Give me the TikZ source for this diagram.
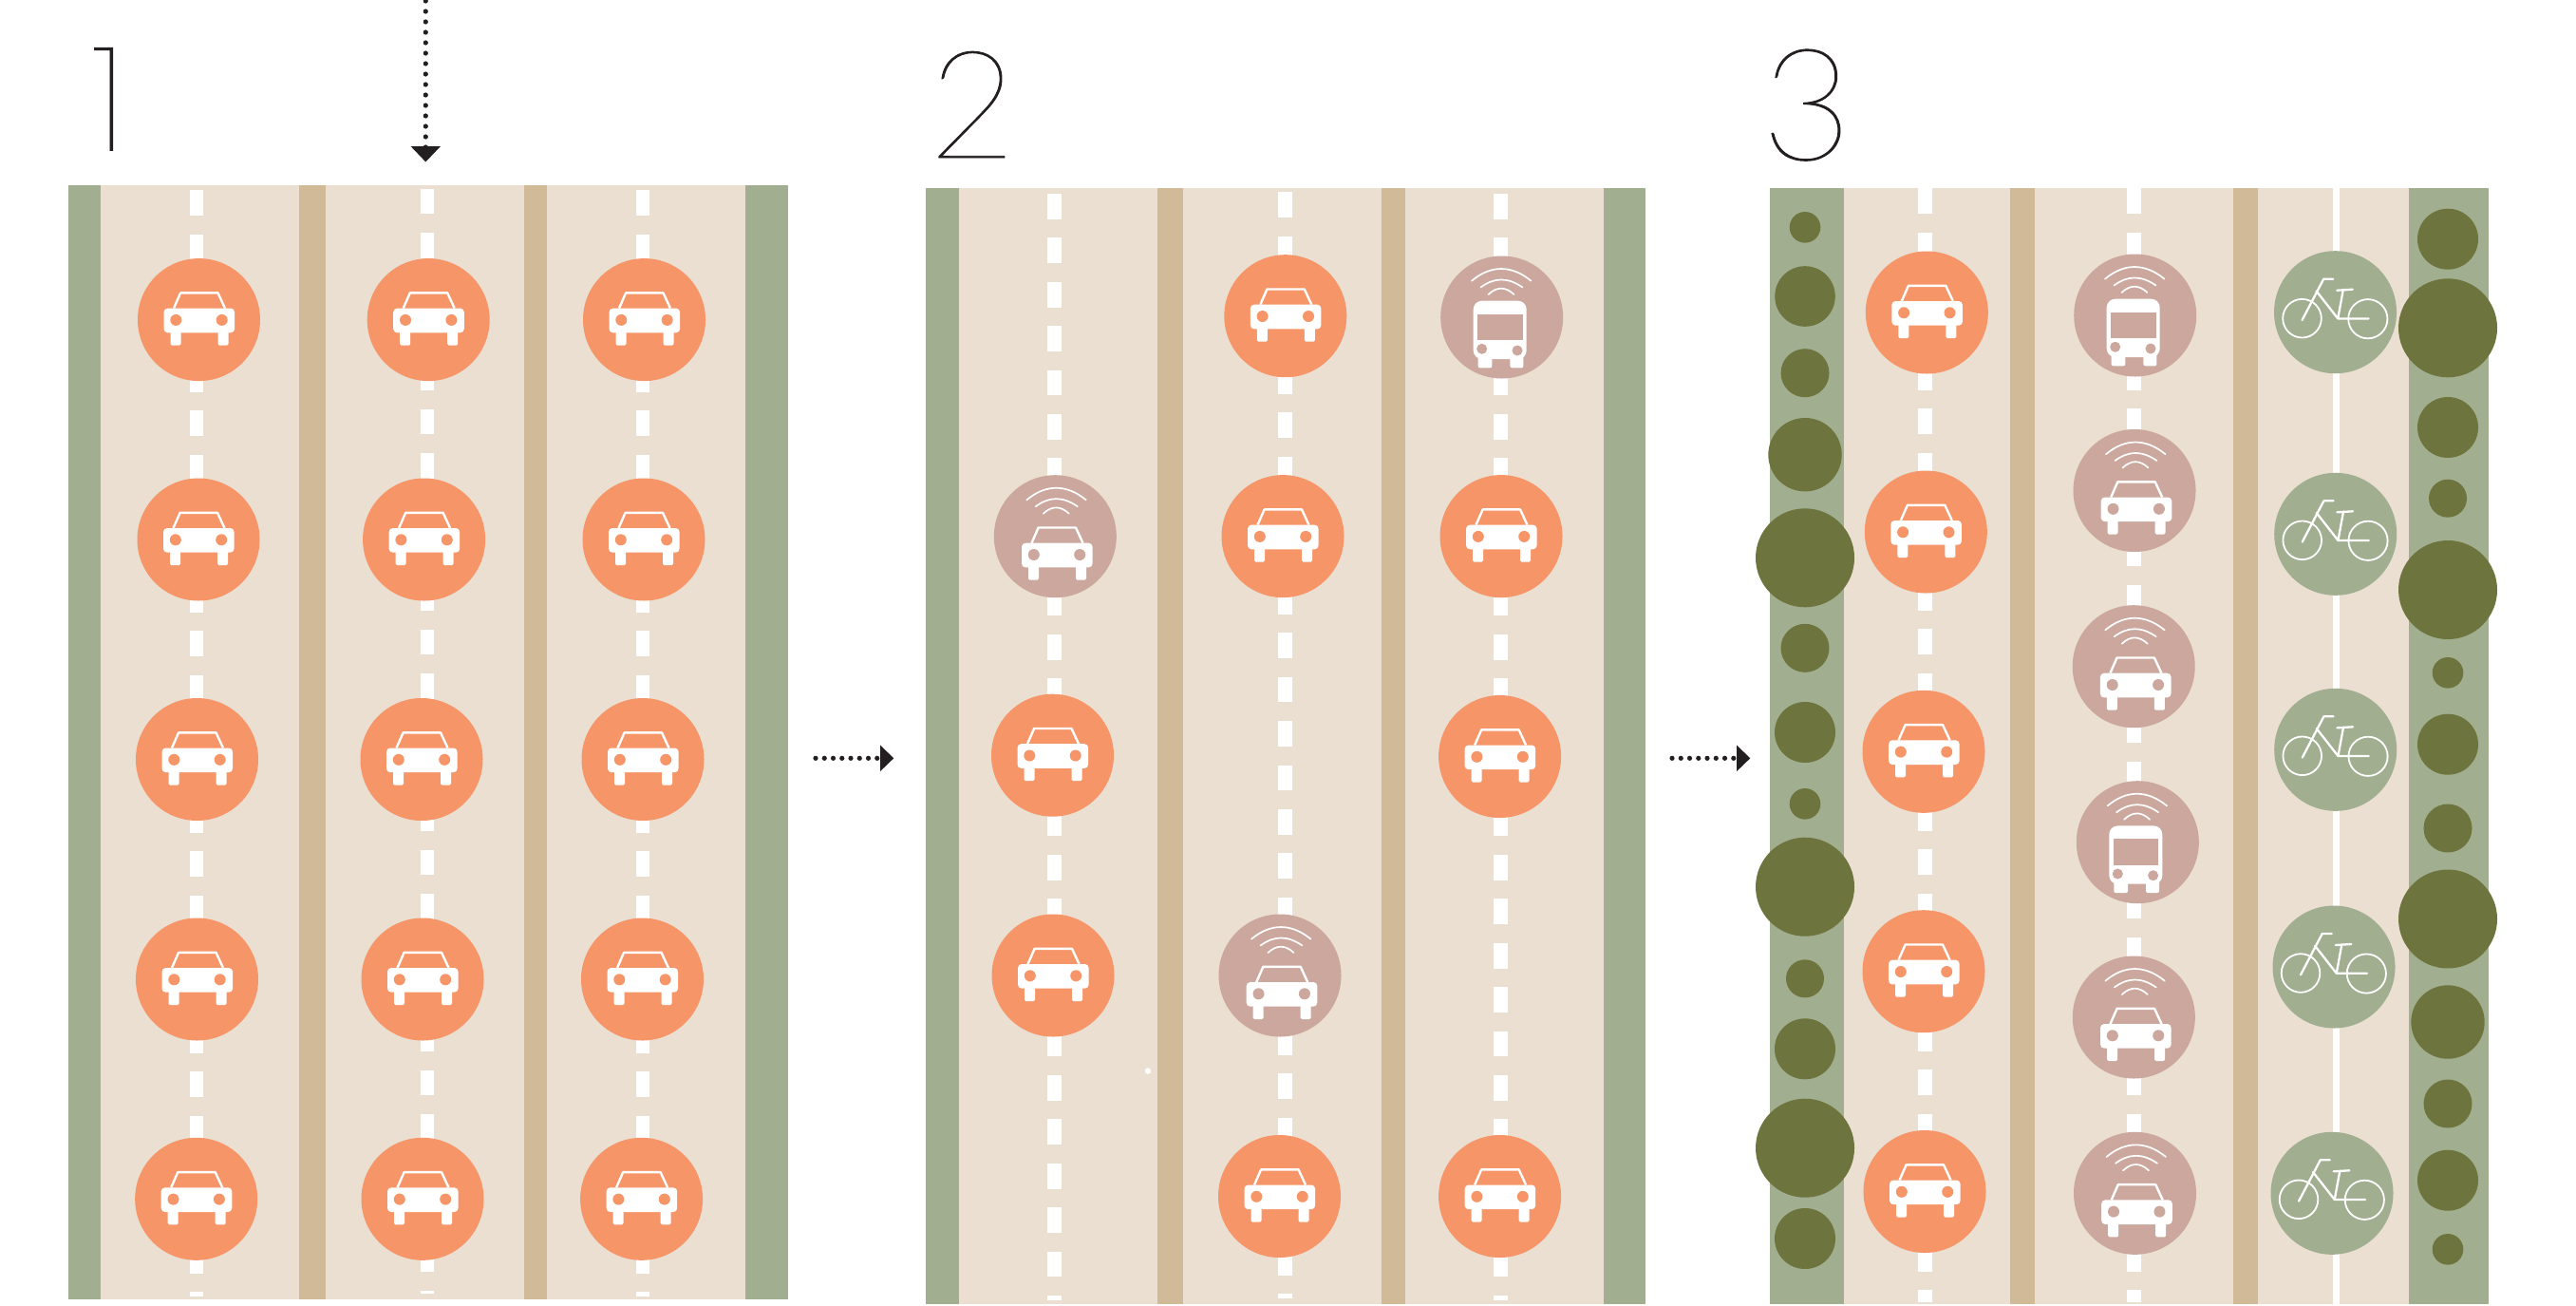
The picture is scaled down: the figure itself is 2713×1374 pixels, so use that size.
\documentclass[tikz,border=0pt]{standalone}
\usepackage{fontspec}
\usetikzlibrary{arrows.meta}
\newfontfamily\digitfont{Lato Hairline}[FakeBold=0.6,UprightFeatures={FakeBold=0.6}]
\newfontfamily\onefont{Poppins Thin}[UprightFeatures={FakeBold=0.4}]
\definecolor{roadbeige}{HTML}{EADFD1}
\definecolor{vergegreen}{HTML}{A1AE90}
\definecolor{mediantan}{HTML}{D0BA98}
\definecolor{carorange}{HTML}{F69568}
\definecolor{avpink}{HTML}{CBA79D}
\definecolor{treegreen}{HTML}{6E743D}
\definecolor{inkblack}{HTML}{231F20}
\newcommand{\carglyph}[1]{%
  \fill[white,rounded corners=4pt] (-37,-12) rectangle (37.6,13.7);
  \fill[white,rounded corners=1.5pt] (-30,8) rectangle (-19,27);
  \fill[white,rounded corners=1.5pt] (20,8) rectangle (31,27);
  \draw[white,line width=2.4pt,line join=round] (-26.5,-12) -- (-19.4,-28.2) -- (20,-28.2) -- (27.5,-12);
  \fill[#1] (-24.2,0.3) circle[radius=6];
  \fill[#1] (24.2,0.3) circle[radius=6];
}
\newcommand{\waves}[1]{%
  \begin{scope}[shift={(#1,0)},white,line width=1.7pt,line cap=round]
    \draw (-31,-38.3) .. controls (-11,-55.2) and (11,-55.2) .. (31.5,-38.3);
    \draw (-21.5,-31.5) .. controls (-7,-42.2) and (7,-42.2) .. (22.5,-31.5);
    \draw (-13.5,-24) .. controls (-4.5,-32.4) and (4.5,-32.4) .. (13.5,-24);
  \end{scope}
}
\tikzset{
  x=1pt,y=-1pt,
  landbar/.style={fill=#1,draw=none},
  lanedash/.style={white,line width=14.7pt,dash pattern=on 26.7pt off 19.7pt},
  dotflow/.style={inkblack,line width=#1,line cap=round},
  numeral/.style={anchor=base west,inner sep=0pt,text=inkblack},
  carpic/.pic={
    \fill[carorange] (0,0) circle[radius=64.5];
    \carglyph{carorange}
  },
  avcarpic/.pic={
    \fill[avpink] (0,0) circle[radius=64.5];
    \begin{scope}[shift={(1.7,19)}]\carglyph{avpink}\end{scope}
    \waves{1}
  },
  avbuspic/.pic={
    \fill[avpink] (0,0) circle[radius=64.5];
    \fill[white,rounded corners=9pt] (-30,44) -- (-30,-17.3) -- (26,-17.3) -- (26,44) -- cycle;
    \fill[white,rounded corners=2pt] (-25,38) rectangle (-10.3,53.3);
    \fill[white,rounded corners=2pt] (8.7,38) rectangle (22.7,53.3);
    \fill[avpink] (-25.7,-3.3) rectangle (22,24.3);
    \fill[avpink] (-21,33.3) circle[radius=5.5];
    \fill[avpink] (16.3,35) circle[radius=5.5];
    \waves{-0.7}
  },
  bikepic/.pic={
    \fill[vergegreen] (0,0) circle[radius=64.5];
    \draw[white,line width=1.8pt] (-35,6.5) circle[radius=20.3];
    \draw[white,line width=1.8pt] (34.3,7) circle[radius=20.6];
    \draw[white,line width=2.3pt,line cap=round,line join=round]
      (-35,8.3) -- (-12.3,-35) -- (-2.3,-35)
      (-20,-22.3) -- (2.7,6.7) -- (35,6.7)
      (2.7,6.7) -- (8.3,-23.7)
      (1.7,-23) -- (18.3,-24);
  },
  treeblob/.style={fill=treegreen,draw=none},
}
\begin{document}
\begin{tikzpicture}[x=1pt,y=-1pt]
\useasboundingbox (0,0) rectangle (2713,1374);

% ---------- Panel 1
\fill[roadbeige] (71.5,195) rectangle (829.5,1368.3);
\fill[landbar=vergegreen] (71.5,195) rectangle (105.6,1368.3);
\fill[landbar=vergegreen] (785,195) rectangle (829.5,1368.3);
\fill[landbar=mediantan] (315,195) rectangle (343,1368.3);
\fill[landbar=mediantan] (552,195) rectangle (576,1368.3);
\draw[lanedash] (207,200.4) -- (207,1365);
\draw[lanedash] (450,198.7) -- (450,1362);
\draw[lanedash] (677,200.4) -- (677,1365);
\foreach \px/\py in {209.5/336.6,451.2/336.6,678.5/336.6,
                     209/568,446.6/568,678/568,
                     207.5/799.5,444/799.5,677/799.5,
                     207.5/1031,445/1031,676.5/1031,
                     206.7/1262.3,445/1262.3,675.6/1262.3}
  \pic at (\px,\py) {carpic};

% ---------- Panel 2
\fill[roadbeige] (975,198.3) rectangle (1733,1373);
\fill[landbar=vergegreen] (975,198.3) rectangle (1010,1373);
\fill[landbar=vergegreen] (1689,198.3) rectangle (1733,1373);
\fill[landbar=mediantan] (1219,198.3) rectangle (1246,1373);
\fill[landbar=mediantan] (1455,198.3) rectangle (1480,1373);
\draw[lanedash] (1110.4,204) -- (1110.4,1369);
\draw[lanedash] (1353.5,202.3) -- (1353.5,1367);
\draw[lanedash] (1580.4,204) -- (1580.4,1369);
\foreach \px/\py in {1353.8/332.7,1351/564.6,1581/564.6,
                     1108.5/795.2,1579.6/796.5,
                     1109/1027,
                     1347.5/1259.5,1579.6/1259.5}
  \pic at (\px,\py) {carpic};
\pic at (1581.7,334) {avbuspic};
\pic at (1111.3,564.7) {avcarpic};
\pic at (1348,1027) {avcarpic};
\fill[white] (1209,1127.5) circle[radius=3.2];

% ---------- Panel 3
\fill[roadbeige] (1864,198.3) rectangle (2621,1372.5);
\fill[landbar=vergegreen] (1864,198.3) rectangle (1942,1372.5);
\fill[landbar=vergegreen] (2537,198.3) rectangle (2621,1372.5);
\fill[landbar=mediantan] (2117,198.3) rectangle (2143,1372.5);
\fill[landbar=mediantan] (2352,198.3) rectangle (2378,1372.5);
\draw[lanedash] (2027.3,198.3) -- (2027.3,1371.3);
\draw[lanedash] (2247.3,198.3) -- (2247.3,1371.3);
\draw[white,line width=6.7pt] (2460.3,198.3) -- (2460.3,1372.5);
\foreach \ty/\tr in {239.3/16.3,312/31.8,392.7/25.5,478.7/38.7,587.3/52,682.3/25.5,
                     771/32,846.3/16.3,933.7/52,1030.3/20,1104.3/32,1208.7/52,1304/32}
  \fill[treeblob] (1901,\ty) circle[radius=\tr];
\foreach \ty/\tr in {251.7/32,345.3/52,450/32,524.7/20,621/52,708.3/16.3,783.7/32,
                     872/25.5,967.5/52,1076/38.7,1162/25.5,1242.7/32,1315.3/16.3}
  \fill[treeblob] (2578,\ty) circle[radius=\tr];
\foreach \px/\py in {2029.3/329,2028.3/560,2026/791.3,2026/1022.7,2027/1254.5}
  \pic at (\px,\py) {carpic};
\pic at (2248.7,332) {avbuspic};
\pic at (2251.3,886.7) {avbuspic};
\foreach \px/\py in {2248/516.5,2247.2/701.7,2247.3/1071,2248.5/1256.3}
  \pic at (\px,\py) {avcarpic};
\foreach \px/\py in {2459.5/328.7,2459.7/562.3,2459.7/789.3,2458/1018,2456/1256.3}
  \pic at (\px,\py) {bikepic};

% ---------- Numerals
\node[numeral,font=\onefont\fontsize{154}{154}\selectfont] (numone) at (97,158.5) {1};
\node[numeral,font=\digitfont\fontsize{158}{158}\selectfont] (numtwo) at (978,166) {2};
\node[numeral,font=\digitfont\fontsize{164}{164}\selectfont] (numthree) at (1855,168) {3};

% ---------- Flow arrows
\coordinate (downstart) at (448.3,1);
\coordinate (downend) at (448.3,170.5);
\draw[dotflow=5.2pt,dash pattern=on 0pt off 11pt,-{Triangle[length=16.5pt,width=30.4pt]}] (downstart) -- (downend);
\coordinate (flowonestart) at (859,798.3);
\coordinate (flowoneend) at (941.3,798.3);
\draw[dotflow=5.2pt,dash pattern=on 0pt off 9.25pt,-{Triangle[length=14.3pt,width=26.7pt]}] (flowonestart) -- (flowoneend);
\coordinate (flowtwostart) at (1761,798.3);
\coordinate (flowtwoend) at (1843.3,798.3);
\draw[dotflow=5.2pt,dash pattern=on 0pt off 9.25pt,-{Triangle[length=14.3pt,width=26.7pt]}] (flowtwostart) -- (flowtwoend);
\end{tikzpicture}
\end{document}
